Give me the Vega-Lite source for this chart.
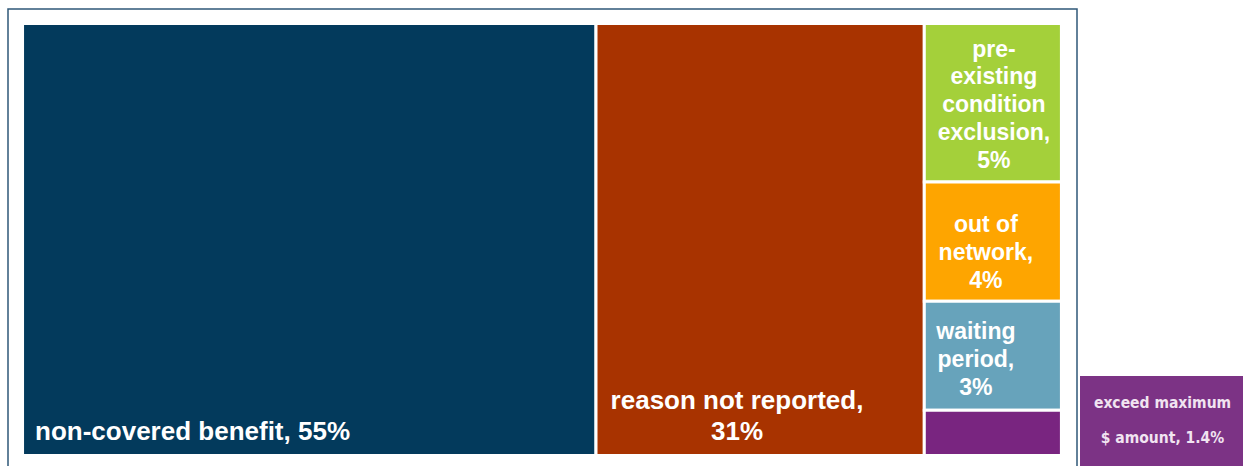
{
  "$schema": "https://vega.github.io/schema/vega-lite/v6.json",
  "background": "white",
  "padding": {"left": 7, "top": 8, "right": 0, "bottom": 0},
  "spacing": 2,
  "config": {"view": {"stroke": null}, "font": "Liberation Sans"},
  "data": {
    "values": [
      {"item": "non-covered benefit", "col": "A", "order": 1, "value": 55.2, "label": "non-covered benefit, 55%"},
      {"item": "reason not reported", "col": "B", "order": 2, "value": 31.6, "label": "reason not reported,\n31%"},
      {"item": "pre-existing condition exclusion", "col": "C", "order": 3, "value": 4.84, "label": "pre-\nexisting\ncondition\nexclusion,\n5%"},
      {"item": "out of network", "col": "C", "order": 4, "value": 3.65, "label": "out of\nnetwork,\n4%"},
      {"item": "waiting period", "col": "C", "order": 5, "value": 3.33, "label": "waiting\nperiod,\n3%"},
      {"item": "exceed maximum $ amount", "col": "C", "order": 6, "value": 1.38, "label": "exceed maximum\n$ amount, 1.4%"}
    ]
  },
  "hconcat": [
    {
      "width": 1069,
      "height": 458,
      "view": {"stroke": "#2f5878", "strokeWidth": 1.5},
      "transform": [
        {"stack": "value", "sort": [{"field": "order", "order": "ascending"}], "as": ["s0", "s1"]},
        {"joinaggregate": [{"op": "min", "field": "s0", "as": "xs"}, {"op": "max", "field": "s1", "as": "xe"}], "groupby": ["col"]},
        {"stack": "value", "groupby": ["col"], "sort": [{"field": "order", "order": "ascending"}], "offset": "normalize", "as": ["y0", "y1"]}
      ],
      "layer": [
        {
          "mark": {"type": "rect", "stroke": "white", "strokeWidth": 3},
          "encoding": {
            "x": {"field": "xs", "type": "quantitative", "axis": null, "scale": {"domain": [-1.4, 101.5], "nice": false, "zero": false}},
            "x2": {"field": "xe"},
            "y": {"field": "y0", "type": "quantitative", "axis": null, "scale": {"domain": [-0.0336, 1.0266], "nice": false, "zero": false, "reverse": true}},
            "y2": {"field": "y1"},
            "color": {
              "field": "item", "type": "nominal", "legend": null,
              "scale": {
                "domain": ["non-covered benefit", "reason not reported", "pre-existing condition exclusion", "out of network", "waiting period", "exceed maximum $ amount"],
                "range": ["#033a5c", "#a83300", "#a4d03a", "#fea500", "#67a3bb", "#792580"]
              }
            }
          }
        },
        {
          "transform": [{"filter": "datum.order == 1"}],
          "mark": {"type": "text", "align": "left", "baseline": "alphabetic", "dx": 12.5, "dy": -15.5, "fontSize": 26, "fontWeight": "bold", "color": "white"},
          "encoding": {
            "x": {"field": "xs", "type": "quantitative"},
            "y": {"field": "y1", "type": "quantitative"},
            "text": {"field": "label"}
          }
        },
        {
          "transform": [{"filter": "datum.order == 2"}],
          "mark": {"type": "text", "align": "center", "baseline": "middle", "lineBreak": "\n", "lineHeight": 31, "dx": 141, "dy": -54.2, "fontSize": 26, "fontWeight": "bold", "color": "white"},
          "encoding": {
            "x": {"field": "xs", "type": "quantitative"},
            "y": {"field": "y1", "type": "quantitative"},
            "text": {"field": "label"}
          }
        },
        {
          "transform": [{"filter": "datum.order == 3"}],
          "mark": {"type": "text", "align": "center", "baseline": "middle", "lineBreak": "\n", "lineHeight": 27.8, "dx": 69.6, "dy": 26, "fontSize": 23, "fontWeight": "bold", "color": "white"},
          "encoding": {
            "x": {"field": "xs", "type": "quantitative"},
            "y": {"field": "y0", "type": "quantitative"},
            "text": {"field": "label"}
          }
        },
        {
          "transform": [{"filter": "datum.order == 4"}],
          "mark": {"type": "text", "align": "center", "baseline": "middle", "lineBreak": "\n", "lineHeight": 27.8, "dx": 61.6, "dy": 43.2, "fontSize": 23, "fontWeight": "bold", "color": "white"},
          "encoding": {
            "x": {"field": "xs", "type": "quantitative"},
            "y": {"field": "y0", "type": "quantitative"},
            "text": {"field": "label"}
          }
        },
        {
          "transform": [{"filter": "datum.order == 5"}],
          "mark": {"type": "text", "align": "center", "baseline": "middle", "lineBreak": "\n", "lineHeight": 27.8, "dx": 51.6, "dy": 31, "fontSize": 23, "fontWeight": "bold", "color": "white"},
          "encoding": {
            "x": {"field": "xs", "type": "quantitative"},
            "y": {"field": "y0", "type": "quantitative"},
            "text": {"field": "label"}
          }
        }
      ]
    },
    {
      "spacing": 2,
      "vconcat": [
        {
          "width": 165,
          "height": 365,
          "view": {"stroke": null},
          "transform": [{"filter": "datum.order == 6"}],
          "mark": {"type": "text", "opacity": 0},
          "encoding": {"text": {"value": ""}}
        },
        {
          "width": 165,
          "height": 91,
          "view": {"stroke": null, "fill": "#7c3385"},
          "transform": [{"filter": "datum.order == 6"}],
          "mark": {"type": "text", "align": "center", "baseline": "middle", "lineBreak": "\n", "lineHeight": 34.4, "dy": -18.2, "fontSize": 15.5, "fontWeight": "bold", "font": "DejaVu Sans Condensed, Liberation Sans, sans-serif", "color": "#f1e4f1"},
          "encoding": {"text": {"field": "label"}}
        }
      ]
    }
  ]
}
